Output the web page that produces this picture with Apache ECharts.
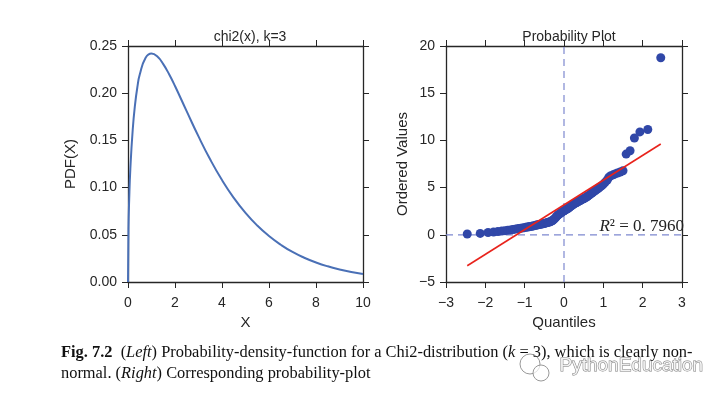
<!DOCTYPE html>
<html>
<head>
<meta charset="utf-8">
<script src="https://cdn.jsdelivr.net/npm/echarts@6/dist/echarts.min.js"></script>
<style>
  html, body { margin: 0; padding: 0; background: #fff; }
  #chart { width: 728px; height: 399px; }
</style>
</head>
<body>
<div id="chart"></div>
<script>
// 左图: chi2(x), k=3 的 PDF 曲线 (从图上读出的点)
const pdfX = [0, 0.02, 0.05, 0.1, 0.2, 0.3, 0.4, 0.5, 0.75, 1, 1.25, 1.5, 1.75, 2, 2.5, 3, 3.5, 4, 4.5, 5, 5.5, 6, 6.5, 7, 7.5, 8, 8.5, 9, 9.5, 10];
const pdfY = [0, 0.056, 0.087, 0.120, 0.161, 0.188, 0.2066, 0.2197, 0.2375, 0.2420, 0.2388, 0.2308, 0.2200, 0.2076, 0.1807, 0.1542, 0.1297, 0.1080, 0.0892, 0.0732, 0.0598, 0.0487, 0.0395, 0.0318, 0.0257, 0.0207, 0.0166, 0.0133, 0.0106, 0.0085];

// 右图: 概率图, 理论分位数 / 排序后的样本值
const quantiles = [
  -2.46, -2.13, -1.93, -1.79, -1.68, -1.58, -1.50, -1.43, -1.36, -1.30,
  -1.25, -1.19, -1.14, -1.10, -1.05, -1.01, -0.97, -0.93, -0.89, -0.86,
  -0.82, -0.79, -0.75, -0.72, -0.69, -0.66, -0.63, -0.60, -0.57, -0.54,
  -0.51, -0.48, -0.45, -0.42, -0.40, -0.37, -0.34, -0.32, -0.29, -0.27,
  -0.24, -0.21, -0.19, -0.16, -0.14, -0.11, -0.09, -0.06, -0.04, -0.01,
  0.01, 0.04, 0.06, 0.09, 0.11, 0.14, 0.16, 0.19, 0.21, 0.24,
  0.27, 0.29, 0.32, 0.34, 0.37, 0.40, 0.42, 0.45, 0.48, 0.51,
  0.54, 0.57, 0.60, 0.63, 0.66, 0.69, 0.72, 0.75, 0.79, 0.82,
  0.86, 0.89, 0.93, 0.97, 1.01, 1.05, 1.10, 1.14, 1.19, 1.25,
  1.30, 1.36, 1.43, 1.50, 1.58, 1.68, 1.79, 1.93, 2.13, 2.46
];
const orderedValues = [
  0.08, 0.15, 0.24, 0.30, 0.35, 0.40, 0.44, 0.48, 0.52, 0.56,
  0.60, 0.64, 0.67, 0.70, 0.73, 0.76, 0.79, 0.82, 0.85, 0.88,
  0.91, 0.94, 0.97, 1.00, 1.03, 1.06, 1.08, 1.11, 1.14, 1.17,
  1.20, 1.23, 1.26, 1.29, 1.32, 1.36, 1.40, 1.45, 1.52, 1.60,
  1.70, 1.82, 1.95, 2.06, 2.15, 2.22, 2.30, 2.38, 2.45, 2.52,
  2.58, 2.64, 2.70, 2.76, 2.84, 2.92, 3.00, 3.08, 3.15, 3.22,
  3.30, 3.36, 3.42, 3.48, 3.54, 3.60, 3.66, 3.72, 3.78, 3.84,
  3.92, 4.00, 4.08, 4.17, 4.26, 4.36, 4.46, 4.56, 4.66, 4.76,
  4.87, 4.98, 5.10, 5.24, 5.40, 5.58, 5.80, 6.10, 6.25, 6.35,
  6.45, 6.55, 6.65, 6.78, 8.55, 8.90, 10.25, 10.90, 11.15, 18.75
];
// 拟合直线的两个端点
const fitX = [-2.46, 2.46];
const fitY = [-3.28, 9.62];
const rSquared = '0. 7960';

// 刻度
const pdfXTicks = { min: 0, max: 10, interval: 2 };
const pdfYTicks = { min: 0, max: 0.25, interval: 0.05 };
const qqXTicks = { min: -3, max: 3, interval: 1 };
const qqYTicks = { min: -5, max: 20, interval: 5 };

const SANS = '"Liberation Sans", Arial, sans-serif';
const SERIF = '"Liberation Serif", "Times New Roman", serif';
const AXIS_COLOR = '#262626';

const minus = v => String(v).replace('-', '\u2212');

// 四边框 + 朝外刻度
function makeAxis(gridIndex, position, ticks, showLabel, formatter) {
  return Object.assign({
    type: 'value',
    gridIndex: gridIndex,
    position: position,
    axisLine: { show: true, onZero: false, lineStyle: { color: AXIS_COLOR, width: 1.3 } },
    axisTick: { show: true, inside: false, length: 6, lineStyle: { color: AXIS_COLOR, width: 1 } },
    splitLine: { show: false },
    axisLabel: {
      show: showLabel,
      margin: (position === 'bottom') ? 14 : 11,
      color: AXIS_COLOR,
      fontFamily: SANS,
      fontSize: 14,
      formatter: formatter
    }
  }, ticks);
}

const chart = echarts.init(document.getElementById('chart'), null, { renderer: 'canvas' });

const xBottom0 = makeAxis(0, 'bottom', pdfXTicks, true, v => String(v));
xBottom0.name = 'X';
const yLeft0 = makeAxis(0, 'left', pdfYTicks, true, v => v.toFixed(2));
yLeft0.name = 'PDF(X)';
const xBottom1 = makeAxis(1, 'bottom', qqXTicks, true, minus);
xBottom1.name = 'Quantiles';
const yLeft1 = makeAxis(1, 'left', qqYTicks, true, minus);
yLeft1.name = 'Ordered Values';

[xBottom0, xBottom1].forEach(a => {
  a.nameLocation = 'middle';
  a.nameGap = 33;
  a.nameTextStyle = { fontFamily: SANS, fontSize: 15, color: AXIS_COLOR };
});
yLeft0.nameLocation = 'middle';
yLeft0.nameGap = 50;
yLeft1.nameLocation = 'middle';
yLeft1.nameGap = 36;
[yLeft0, yLeft1].forEach(a => {
  a.nameTextStyle = { fontFamily: SANS, fontSize: 15, color: AXIS_COLOR };
});

const option = {
  backgroundColor: '#fff',
  animation: false,
  title: [
    {
      text: 'chi2(x), k=3', left: 245, top: 25, textAlign: 'center',
      textStyle: { fontFamily: SANS, fontSize: 14, fontWeight: 'normal', color: AXIS_COLOR }
    },
    {
      text: 'Probability Plot', left: 564, top: 25, textAlign: 'center',
      textStyle: { fontFamily: SANS, fontSize: 14, fontWeight: 'normal', color: AXIS_COLOR }
    }
  ],
  grid: [
    { left: 128, top: 46, width: 235, height: 236 },
    { left: 446, top: 46, width: 236, height: 236 }
  ],
  xAxis: [
    xBottom0,
    makeAxis(0, 'top', pdfXTicks, false),
    xBottom1,
    makeAxis(1, 'top', qqXTicks, false)
  ],
  yAxis: [
    yLeft0,
    makeAxis(0, 'right', pdfYTicks, false),
    yLeft1,
    makeAxis(1, 'right', qqYTicks, false)
  ],
  series: [
    {
      type: 'line',
      xAxisIndex: 0, yAxisIndex: 0,
      data: pdfX.map((x, i) => [x, pdfY[i]]),
      showSymbol: false,
      smooth: 0.5,
      lineStyle: { color: '#4a70b6', width: 2 },
      z: 3
    },
    // 参考虚线 x=0, y=0
    {
      type: 'line',
      xAxisIndex: 2, yAxisIndex: 2,
      data: [[0, qqYTicks.min], [0, qqYTicks.max]],
      showSymbol: false,
      lineStyle: { color: '#7d88cf', width: 1.2, type: [7, 5] },
      z: 1
    },
    {
      type: 'line',
      xAxisIndex: 2, yAxisIndex: 2,
      data: [[qqXTicks.min, 0], [qqXTicks.max, 0]],
      showSymbol: false,
      lineStyle: { color: '#7d88cf', width: 1.2, type: [7, 5] },
      z: 1
    },
    {
      type: 'scatter',
      xAxisIndex: 2, yAxisIndex: 2,
      data: quantiles.map((q, i) => [q, orderedValues[i]]),
      symbolSize: 9,
      itemStyle: { color: '#3047a8', opacity: 1 },
      z: 2
    },
    {
      type: 'line',
      xAxisIndex: 2, yAxisIndex: 2,
      data: fitX.map((x, i) => [x, fitY[i]]),
      showSymbol: false,
      lineStyle: { color: '#e8231c', width: 1.6 },
      z: 3
    }
  ],
  graphic: [
    {
      type: 'text',
      right: 44, top: 218,
      style: {
        text: '{i|R}{n|\u00b2 = ' + rSquared + '}',
        rich: {
          i: { fontFamily: SERIF, fontSize: 17, fontStyle: 'italic', fill: '#222' },
          n: { fontFamily: SERIF, fontSize: 17, fill: '#222' }
        }
      },
      z: 10
    },
    {
      type: 'text',
      left: 61, top: 345,
      style: {
        text: '{b|Fig. 7.2}{n|  (}{i|Left}{n|) Probability-density-function for a Chi2-distribution (}{i|k}{n| = 3), which is clearly non-}\n' +
              '{n|normal. (}{i|Right}{n|) Corresponding probability-plot}',
        rich: {
          b: { fontFamily: SERIF, fontSize: 16.4, fontWeight: 'bold', fill: '#111', lineHeight: 21 },
          n: { fontFamily: SERIF, fontSize: 16.4, fill: '#111', lineHeight: 21 },
          i: { fontFamily: SERIF, fontSize: 16.4, fontStyle: 'italic', fill: '#111', lineHeight: 21 }
        }
      },
      z: 10
    },
    // 水印
    {
      type: 'group',
      z: 20,
      children: [
        {
          type: 'circle',
          shape: { cx: 530, cy: 364, r: 10 },
          style: { fill: 'rgba(255,255,255,0.7)', stroke: '#999', lineWidth: 1 }
        },
        {
          type: 'circle',
          shape: { cx: 541, cy: 373, r: 8 },
          style: { fill: 'rgba(255,255,255,0.7)', stroke: '#999', lineWidth: 1 }
        },
        {
          type: 'text',
          left: 559, top: 356,
          style: {
            text: 'PythonEducation',
            fontFamily: SANS,
            fontSize: 19,
            fill: 'rgba(255,255,255,0.8)',
            stroke: '#7f7f7f',
            lineWidth: 1
          }
        }
      ]
    }
  ]
};

chart.setOption(option);
</script>
</body>
</html>
